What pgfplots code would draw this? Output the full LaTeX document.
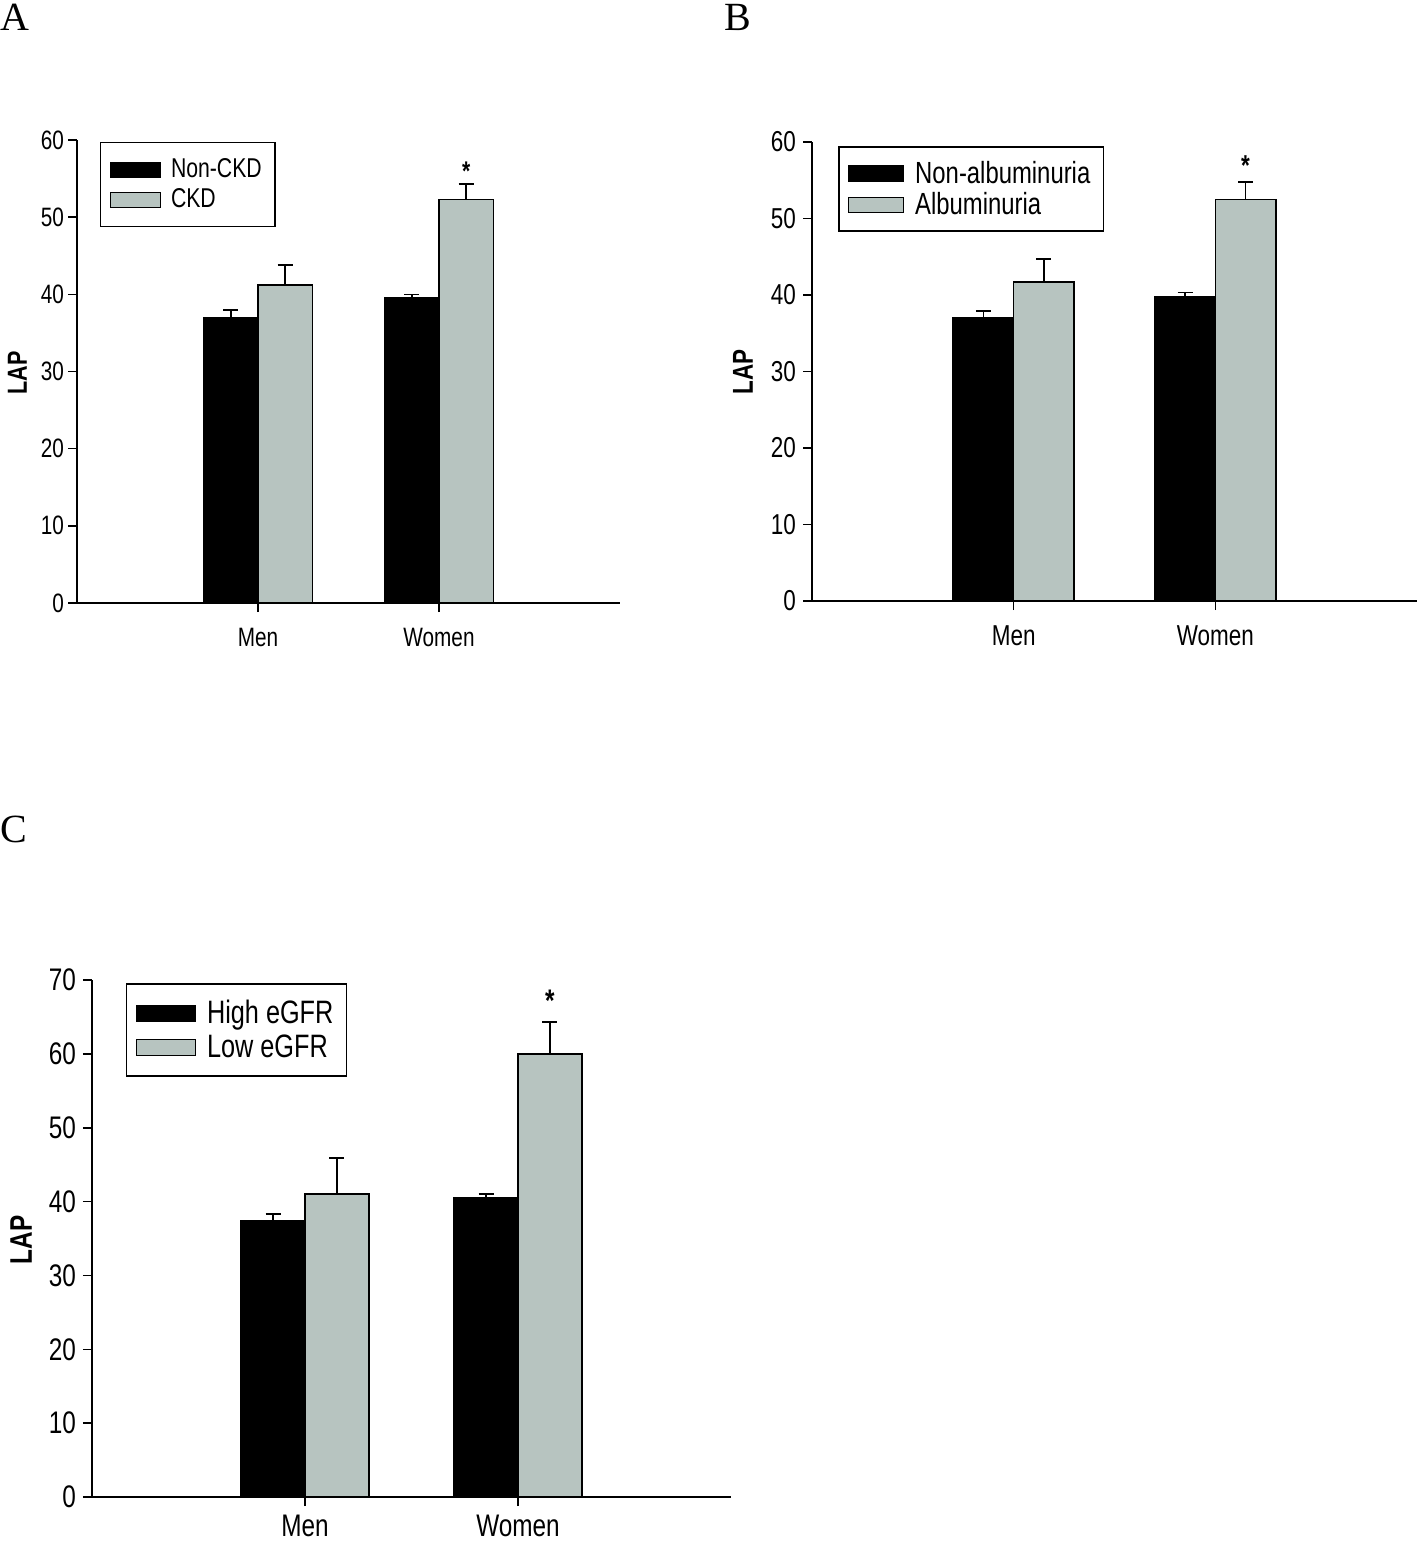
\documentclass[border=0pt]{standalone}
\usepackage{pgfplots}
\pgfplotsset{compat=1.18}
\usepackage{fontspec}
\setmainfont{Liberation Sans}[FakeStretch=0.78]
\newfontfamily\panelfont{Liberation Serif}
\definecolor{barg}{RGB}{183,196,192}

\pgfplotsset{
  lapstyle/.style={
    scale only axis, anchor=south west,
    xmin=0, xmax=3, ymin=0,
    axis x line*=bottom, axis y line*=left,
    axis line style={line width=1pt, -},
    xtick={1,2}, xticklabels={Men,Women},
    tick align=outside, major tick length=4.5pt,
    tick style={line width=0.8pt, black},
    /pgf/number format/assume math mode=true,
    ybar, bar width=0.3,
    legend cell align=left,
    ylabel={LAP},
    every axis y label/.append style={anchor=center},
  },
  errst/.style={error bars/.cd, y dir=plus, y explicit,
    error bar style={line width=0.8pt,black},
    error mark=-,
    error mark options={rotate=90, line width=0.8pt, mark size=3.75pt, black}},
}

\begin{document}
\begin{tikzpicture}
\path[use as bounding box] (0,0) rectangle (709pt,-772.5pt);

\node[font=\panelfont\fontsize{20}{22}\selectfont, anchor=north west, inner sep=0pt] at (0pt,-2pt) {A};
\node[font=\panelfont\fontsize{20}{22}\selectfont, anchor=north west, inner sep=0pt] at (362pt,-2pt) {B};
\node[font=\panelfont\fontsize{20}{22}\selectfont, anchor=north west, inner sep=0pt] at (0pt,-408pt) {C};

% Panel A
\begin{axis}[lapstyle,
  at={(38.5pt,-301.5pt)}, width=271.5pt, height=231.5pt,
  ymax=60, ytick={0,10,...,60},
  tick label style={font=\fontsize{13.3}{15}\selectfont},
  xticklabel style={yshift=-4.5pt},
  yticklabel style={xshift=1.5pt},
  ylabel style={font=\bfseries\fontsize{13.8}{15}\selectfont, at={(axis description cs:-0.110,0.497)}},
  legend image code/.code={\draw[#1,line width=0.6pt] (0pt,-3.75pt) rectangle (25pt,3.75pt); \path (28pt,0pt);},
  legend style={at={(0.042,0.996)}, anchor=north west, draw=black, line width=0.8pt,
    font=\fontsize{13.6}{15}\selectfont, inner xsep=4.5pt, inner ysep=6pt, row sep=0pt},
]
\addplot[fill=black, draw=black, line width=0.8pt, bar shift=-0.15, errst]
  coordinates {(1,37.0) +- (0,0.95) (2,39.5) +- (0,0.5)};
\addplot[fill=barg, draw=black, line width=0.8pt, bar shift=0.15, errst]
  coordinates {(1,41.2) +- (0,2.6) (2,52.3) +- (0,2.0)};
\legend{Non-CKD, CKD}
\node[font=\bfseries\fontsize{13.5}{15}\selectfont] at (axis cs:2.15,56.0) {*};
\end{axis}

% Panel B
\begin{axis}[lapstyle,
  at={(406pt,-300.5pt)}, width=302.5pt, height=229.5pt,
  ymax=60, ytick={0,10,...,60},
  tick label style={font=\fontsize{14.4}{16}\selectfont},
  xticklabel style={yshift=-4.5pt},
  ylabel style={font=\bfseries\fontsize{14.4}{16}\selectfont, at={(axis description cs:-0.114,0.499)}},
  legend image code/.code={\draw[#1,line width=0.6pt] (0pt,-3.75pt) rectangle (27.5pt,3.75pt); \path (31pt,0pt);},
  legend style={at={(0.043,0.991)}, anchor=north west, draw=black, line width=0.8pt,
    font=\fontsize{15.3}{17}\selectfont, inner xsep=4.5pt, inner ysep=5pt, row sep=-1pt},
]
\addplot[fill=black, draw=black, line width=0.8pt, bar shift=-0.15, errst]
  coordinates {(1,37.0) +- (0,0.9) (2,39.7) +- (0,0.65)};
\addplot[fill=barg, draw=black, line width=0.8pt, bar shift=0.15, errst]
  coordinates {(1,41.7) +- (0,3.0) (2,52.5) +- (0,2.3)};
\legend{Non-albuminuria, Albuminuria}
\node[font=\bfseries\fontsize{14.4}{16}\selectfont] at (axis cs:2.15,56.9) {*};
\end{axis}

% Panel C
\begin{axis}[lapstyle,
  at={(46pt,-748.5pt)}, width=319.5pt, height=258.5pt,
  ymax=70, ytick={0,10,...,70},
  tick label style={font=\fontsize{15.6}{17}\selectfont},
  xticklabel style={yshift=-1pt},
  ylabel style={font=\bfseries\fontsize{15.6}{17}\selectfont, at={(axis description cs:-0.111,0.497)}},
  legend image code/.code={\draw[#1,line width=0.6pt] (0pt,-4pt) rectangle (29.5pt,4pt); \path (33pt,0pt);},
  legend style={at={(0.053,0.994)}, anchor=north west, draw=black, line width=0.8pt,
    font=\fontsize{16.2}{18}\selectfont, inner xsep=4.5pt, inner ysep=6pt, row sep=0pt},
]
\addplot[fill=black, draw=black, line width=0.8pt, bar shift=-0.15, errst]
  coordinates {(1,37.4) +- (0,0.95) (2,40.5) +- (0,0.5)};
\addplot[fill=barg, draw=black, line width=0.8pt, bar shift=0.15, errst]
  coordinates {(1,41.0) +- (0,4.9) (2,60.0) +- (0,4.3)};
\legend{High eGFR, Low eGFR}
\node[font=\bfseries\fontsize{15.6}{17}\selectfont] at (axis cs:2.15,67.2) {*};
\end{axis}
\end{tikzpicture}
\end{document}
